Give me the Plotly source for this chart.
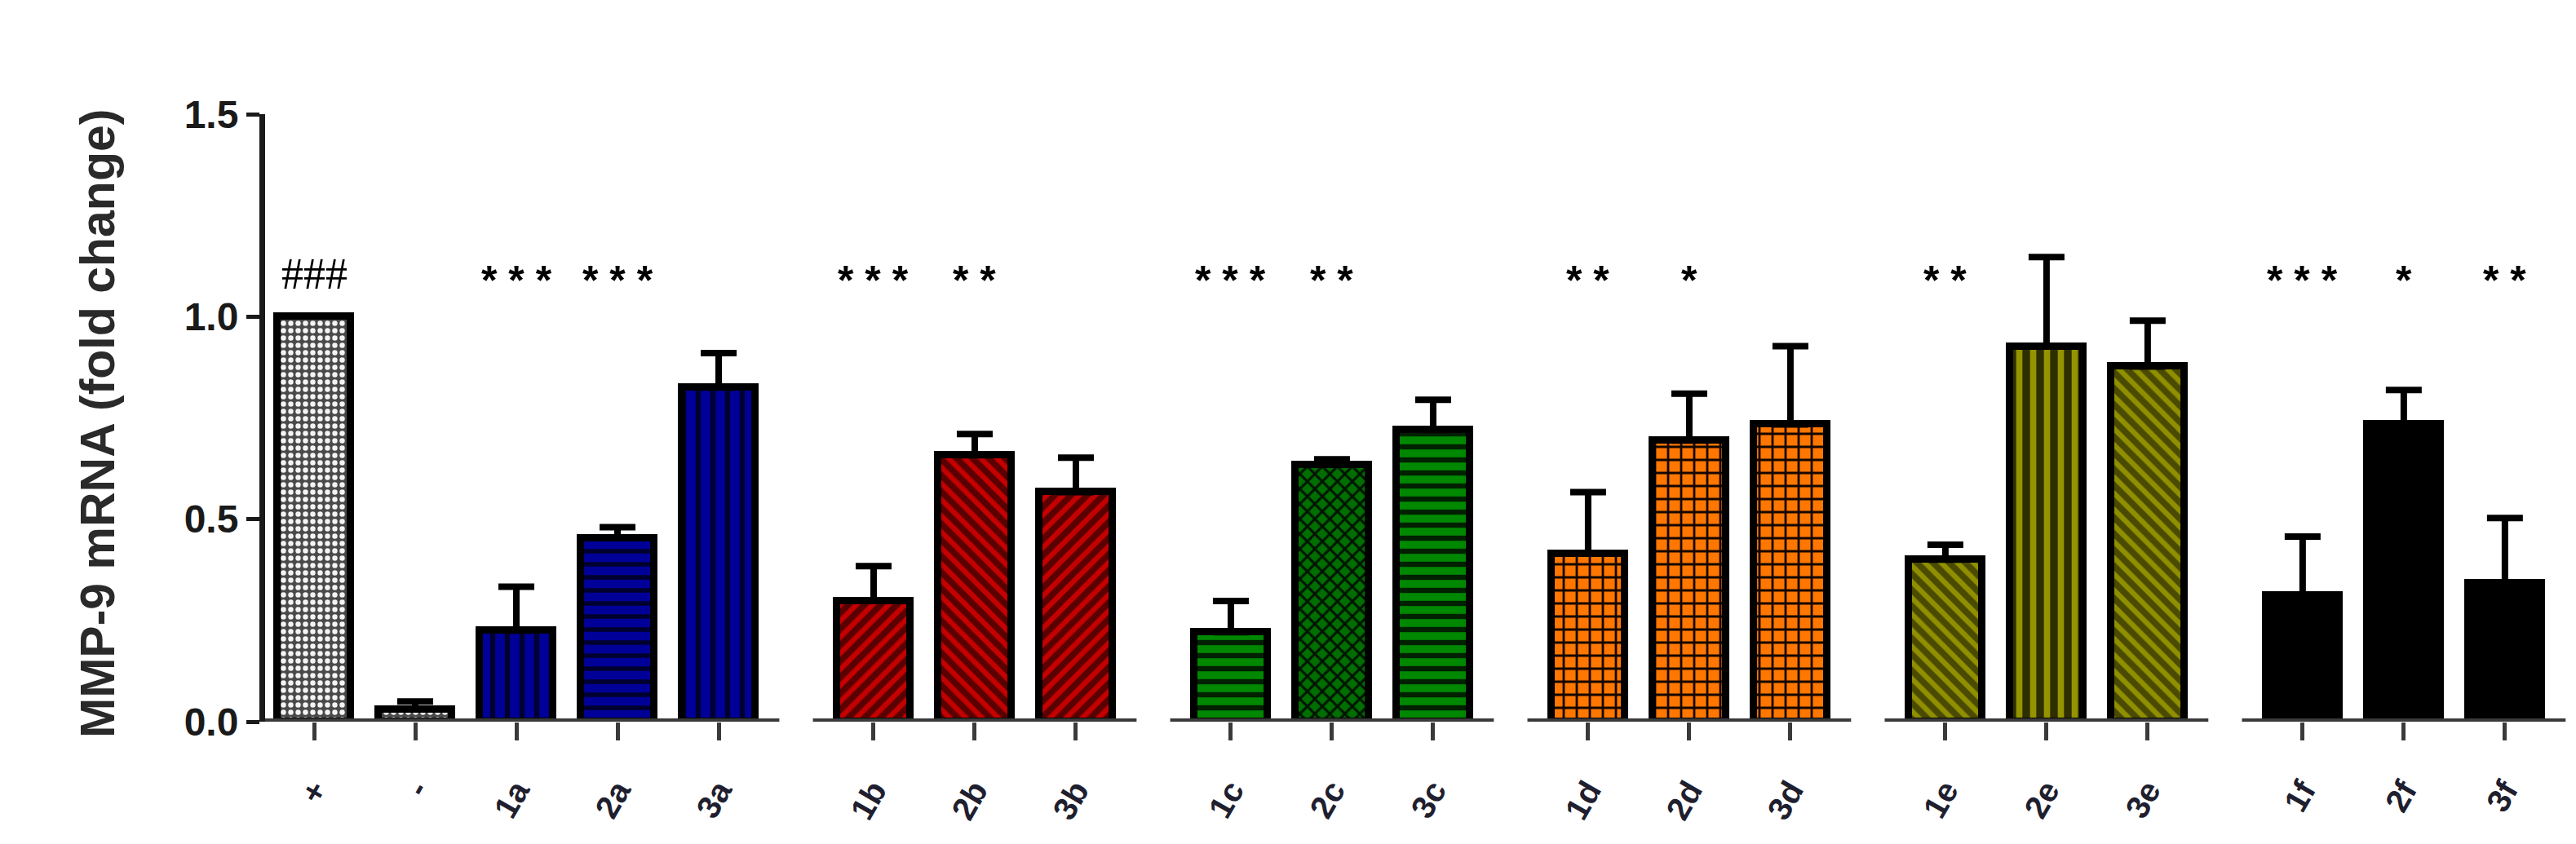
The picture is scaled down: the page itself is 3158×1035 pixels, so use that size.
import plotly.graph_objects as go

# --- data ---
categories = ["+", "-", "1a", "2a", "3a", "1b", "2b", "3b", "1c", "2c", "3c",
              "1d", "2d", "3d", "1e", "2e", "3e", "1f", "2f", "3f"]
groups = [0, 0, 0, 0, 0, 1, 1, 1, 2, 2, 2, 3, 3, 3, 4, 4, 4, 5, 5, 5]
mmp9_mean = [1.00, 0.03, 0.225, 0.454, 0.825, 0.298, 0.658, 0.567, 0.221, 0.635, 0.72,
             0.415, 0.694, 0.734, 0.40, 0.927, 0.877, 0.312, 0.734, 0.342]
mmp9_sem = [0.0, 0.02, 0.108, 0.026, 0.085, 0.086, 0.052, 0.085, 0.077, 0.013, 0.075,
            0.152, 0.116, 0.193, 0.037, 0.22, 0.113, 0.145, 0.085, 0.161]
significance = ["###", "", "***", "***", "", "***", "**", "", "***", "**", "",
                "**", "*", "", "**", "", "", "***", "*", "**"]

# --- styles (one per bar) ---
bg = ["#4a4a4a", "#4a4a4a",
      "#000098", "#000098", "#000098",
      "#5a0000", "#5a0000", "#5a0000",
      "#008800", "#006e00", "#008800",
      "#ff7700", "#ff7700", "#ff7700",
      "#4a4a00", "#2e2e00", "#4a4a00",
      "black", "black", "black"]
fg = ["#f4f4f4", "#f4f4f4",
      "#000030", "#000030", "#000030",
      "#c40000", "#c40000", "#c40000",
      "#002000", "#001400", "#002000",
      "#140600", "#140600", "#140600",
      "#8f8f00", "#949400", "#8f8f00",
      "black", "black", "black"]
shapes_pat = [".", ".", "|", "-", "|", "/", "\\", "/", "-", "x", "-",
              "+", "+", "+", "\\", "|", "\\", "", "", ""]
pat_size = [9, 9, 18, 16, 18, 14, 14, 14, 16, 13, 16, 16, 16, 16, 14, 17, 14, 10, 10, 10]
pat_solid = [0.4, 0.4, 0.35, 0.35, 0.35, 0.45, 0.45, 0.45, 0.4, 0.4, 0.4,
             0.32, 0.32, 0.32, 0.45, 0.45, 0.45, 0.3, 0.3, 0.3]

# layout: one slot per bar plus an extra gap between groups
GAP = 0.532
xpos = [i + GAP * g for i, g in enumerate(groups)]

FONT = "Arial, Liberation Sans, sans-serif"
W, H = 3158, 1035
ML, MR, MT, MB = 317, 15, 132, 158
X_LEFT = -0.484
px_per_unit = 124
x_right = X_LEFT + (W - ML - MR) / px_per_unit

fig = go.Figure()
# one trace per bar so that each keeps its own hatch pattern
for i in range(len(categories)):
    fig.add_trace(go.Bar(
        x=[xpos[i]], y=[mmp9_mean[i]], width=0.72, name=categories[i],
        marker=dict(
            color=bg[i],
            line=dict(color="black", width=9),
            pattern=dict(shape=shapes_pat[i], fgcolor=fg[i], bgcolor=bg[i], fgopacity=1,
                         size=pat_size[i], solidity=pat_solid[i]),
        ),
        error_y=dict(type="data", symmetric=False, array=[mmp9_sem[i]], arrayminus=[0],
                     color="black", thickness=8, width=22, visible=mmp9_sem[i] > 0),
        showlegend=False,
    ))

# segmented baseline per group (GraphPad style)
shapes = []
for g in sorted(set(groups)):
    xs = [x for x, gg in zip(xpos, groups) if gg == g]
    x0 = X_LEFT if g == 0 else xs[0] - 0.6
    shapes.append(dict(type="line", xref="x", yref="y", x0=x0, x1=xs[-1] + 0.6,
                       y0=0, y1=0, line=dict(color="#3a3a3a", width=8), layer="above"))

annotations = []
for x, s in zip(xpos, significance):
    if not s:
        continue
    if s.startswith("#"):
        annotations.append(dict(x=x, y=1.105, xref="x", yref="y", text=s, showarrow=False,
                                font=dict(family="Liberation Serif, serif", size=54, color="black")))
    else:
        annotations.append(dict(x=x, y=1.09, xref="x", yref="y", text="<b>%s</b>" % " ".join(s),
                                showarrow=False,
                                font=dict(family=FONT, size=50, color="black")))

annotations.append(dict(
    text="<b>MMP-9 mRNA (fold change)</b>", textangle=-90,
    xref="paper", yref="paper", x=(112 - ML) / (W - ML - MR), y=0.49,
    xanchor="center", yanchor="middle", showarrow=False,
    font=dict(family=FONT, size=59, color="#2a2a2a"),
))

fig.update_layout(
    width=W, height=H, autosize=False,
    margin=dict(l=ML, r=MR, t=MT, b=MB),
    plot_bgcolor="white", paper_bgcolor="white",
    barmode="overlay", bargap=0,
    shapes=shapes,
    annotations=annotations,
    xaxis=dict(
        range=[X_LEFT, x_right],
        tickvals=xpos, ticktext=["<b>%s</b>" % c for c in categories],
        tickangle=-60, ticks="outside", ticklen=22, tickwidth=5, tickcolor="#3a3a3a",
        tickfont=dict(family=FONT, size=40, color="#1f1f2f"),
        ticklabelstandoff=22,
        showline=False, showgrid=False, zeroline=False,
    ),
    yaxis=dict(
        range=[0, 1.5],
        tickvals=[0, 0.5, 1.0, 1.5], ticktext=["<b>0.0</b>", "<b>0.5</b>", "<b>1.0</b>", "<b>1.5</b>"],
        ticks="outside", ticklen=16, tickwidth=5, tickcolor="#1a1a1a",
        tickfont=dict(family=FONT, size=48, color="#1a1a1a"),
        showline=True, linecolor="#1a1a1a", linewidth=7,
        showgrid=False, zeroline=False,
    ),
)

fig.write_html("out.html")
